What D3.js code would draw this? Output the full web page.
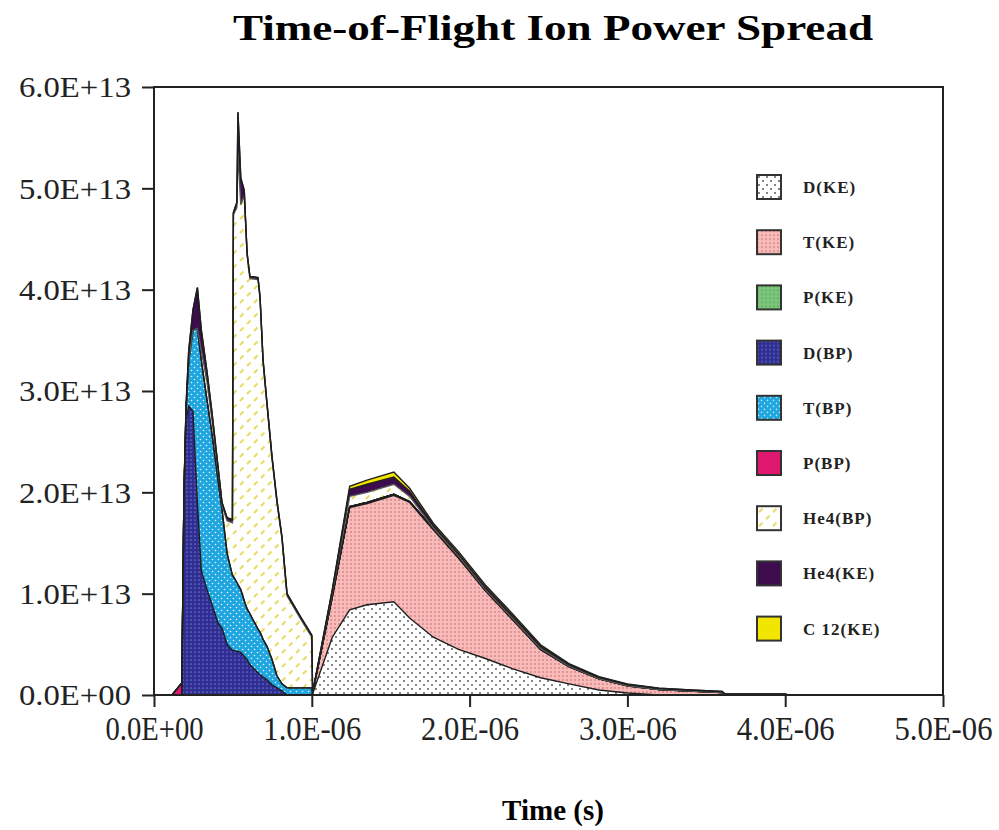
<!DOCTYPE html>
<html>
<head>
<meta charset="utf-8">
<script src="https://cdn.jsdelivr.net/npm/d3@7"></script>
<style>
  body { margin: 0; background: #fff; }
  svg { display: block; }
</style>
</head>
<body>
<div id="container"></div>
<script>
// time in units of 1E-06 s, power in units of 1E+13
const timesUs = [0.07, 0.114, 0.176, 0.183, 0.19, 0.203, 0.22, 0.247, 0.275, 0.30,
  0.336, 0.368, 0.406, 0.431, 0.463, 0.497, 0.503, 0.525, 0.532, 0.55,
  0.572, 0.578, 0.59, 0.608, 0.659, 0.672, 0.691, 0.716, 0.748, 0.779,
  0.811, 0.843, 0.925, 1.0, 1.005, 1.13, 1.24, 1.35, 1.52, 1.62,
  1.77, 1.93, 2.1, 2.27, 2.45, 2.63, 2.82, 3.0, 3.2, 3.4,
  3.6, 3.62, 3.8, 4.0, 4.02];

const dKE = [0, 0, 0, 0, 0, 0, 0, 0, 0, 0, 0, 0, 0, 0, 0, 0, 0, 0, 0, 0,
  0, 0, 0, 0, 0, 0, 0, 0, 0, 0, 0, 0, 0, 0,
  0.01, 0.57, 0.84, 0.89, 0.92, 0.76, 0.57, 0.45, 0.36, 0.26, 0.17, 0.11, 0.05, 0.02, 0, 0, 0, 0, 0, 0, 0];
const tKE = [0, 0, 0, 0, 0, 0, 0, 0, 0, 0, 0, 0, 0, 0, 0, 0, 0, 0, 0, 0,
  0, 0, 0, 0, 0, 0, 0, 0, 0, 0, 0, 0, 0, 0,
  0.01, 0.4, 1.01, 1.0, 1.05, 1.14, 1.06, 0.9, 0.67, 0.49, 0.28, 0.17, 0.11, 0.07, 0.055, 0.04, 0.025, 0, 0, 0, 0];
const pKE = [0, 0, 0, 0, 0, 0, 0, 0, 0, 0, 0, 0, 0, 0, 0, 0, 0, 0, 0, 0,
  0, 0, 0, 0, 0, 0, 0, 0, 0, 0, 0, 0, 0, 0,
  0, 0, 0.01, 0.01, 0.01, 0.01, 0.01, 0.01, 0, 0, 0, 0, 0, 0, 0, 0, 0, 0, 0, 0, 0];
const dBP = [0, 0, 0, 1.0, 2.0, 2.7, 2.85, 2.8, 1.9, 1.23, 1.04, 0.89, 0.71, 0.66, 0.5, 0.44, 0.44, 0.43, 0.43, 0.42,
  0.38, 0.37, 0.35, 0.3, 0.22, 0.2, 0.18, 0.15, 0.1, 0.07, 0.04, 0, 0, 0,
  0, 0, 0, 0, 0, 0, 0, 0, 0, 0, 0, 0, 0, 0, 0, 0, 0, 0, 0, 0, 0];
const tBP = [0, 0, 0, 0, 0, 0.1, 0.45, 0.8, 1.72, 2.07, 1.87, 1.68, 1.41, 1.17, 0.9, 0.74, 0.73, 0.68, 0.66, 0.62,
  0.55, 0.53, 0.5, 0.5, 0.43, 0.42, 0.37, 0.33, 0.25, 0.12, 0.07, 0.07, 0.07, 0.07,
  0, 0, 0, 0, 0, 0, 0, 0, 0, 0, 0, 0, 0, 0, 0, 0, 0, 0, 0, 0, 0];
const pBP = [0, 0, 0.12, 0.03, 0, 0, 0, 0, 0, 0, 0, 0, 0, 0, 0, 0, 0, 0, 0, 0,
  0, 0, 0, 0, 0, 0, 0, 0, 0, 0, 0, 0, 0, 0,
  0, 0, 0, 0, 0, 0, 0, 0, 0, 0, 0, 0, 0, 0, 0, 0, 0, 0, 0, 0, 0];
const he4BP = [0, 0, 0, 0, 0, 0, 0, 0, 0, 0.1, 0.18, 0.14, 0.09, 0.04, 0.32, 0.52, 3.57, 3.7, 4.26, 3.8,
  4.0, 3.84, 3.49, 3.31, 3.45, 3.29, 2.74, 2.38, 1.98, 1.71, 1.43, 0.91, 0.69, 0.5,
  0, 0.04, 0.1, 0.1, 0.1, 0.05, 0.01, 0.01, 0.01, 0.01, 0.01, 0.005, 0, 0, 0, 0, 0, 0, 0, 0, 0];
const he4KE = [0, 0, 0, 0, 0, 0.05, 0.1, 0.2, 0.4, 0.2, 0.1, 0.07, 0.04, 0.03, 0.03, 0.03, 0.02, 0.05, 0.4, 0.26,
  0.05, 0.02, 0.02, 0.02, 0.02, 0.02, 0.02, 0.02, 0.02, 0.02, 0.02, 0.02, 0.02, 0.02,
  0, 0.03, 0.07, 0.08, 0.07, 0.05, 0.025, 0.025, 0.025, 0.025, 0.02, 0.015, 0.015, 0.015, 0.012, 0.01, 0.01, 0.01, 0.01, 0.01, 0];
const c12KE = [0, 0, 0, 0, 0, 0, 0, 0, 0, 0, 0, 0, 0, 0, 0, 0, 0, 0, 0, 0,
  0, 0, 0, 0, 0, 0, 0, 0, 0, 0, 0, 0, 0, 0,
  0, 0, 0.03, 0.04, 0.05, 0.03, 0.02, 0.02, 0.02, 0.02, 0.015, 0.01, 0.005, 0.005, 0, 0, 0, 0, 0, 0, 0];

const seriesNames = ["D(KE)", "T(KE)", "P(KE)", "D(BP)", "T(BP)", "P(BP)", "He4(BP)", "He4(KE)", "C 12(KE)"];
const seriesValues = [dKE, tKE, pKE, dBP, tBP, pBP, he4BP, he4KE, c12KE];

const xTickValues = [0, 1, 2, 3, 4, 5];
const xTickLabels = ["0.0E+00", "1.0E-06", "2.0E-06", "3.0E-06", "4.0E-06", "5.0E-06"];
const yTickValues = [0, 1, 2, 3, 4, 5, 6];
const yTickLabels = ["0.0E+00", "1.0E+13", "2.0E+13", "3.0E+13", "4.0E+13", "5.0E+13", "6.0E+13"];

const width = 999, height = 830;
const margin = { top: 87, right: 56, bottom: 135, left: 154 };
const plotW = width - margin.left - margin.right;
const plotH = height - margin.top - margin.bottom;

const svg = d3.select("#container").append("svg")
  .attr("width", width)
  .attr("height", height);

// fill patterns
const defs = svg.append("defs");

function dotPattern(id, size, bg, dot, r, pts) {
  const p = defs.append("pattern")
    .attr("id", id)
    .attr("width", size)
    .attr("height", size)
    .attr("patternUnits", "userSpaceOnUse");
  p.append("rect").attr("width", size).attr("height", size).attr("fill", bg);
  pts.forEach(([cx, cy]) => {
    p.append("circle").attr("cx", cx).attr("cy", cy).attr("r", r).attr("fill", dot);
  });
}

dotPattern("pDKE", 8, "#ffffff", "#4a4a4a", 0.9, [[2, 2], [6, 6]]);
dotPattern("pTKE", 4, "#f6bcbc", "#d45a5a", 0.8, [[1, 1]]);
dotPattern("pPKE", 4, "#7cc67c", "#3f8f3f", 0.7, [[1, 1]]);
dotPattern("pDBP", 4, "#2e2e94", "#c8c8f0", 0.6, [[1, 1]]);
dotPattern("pTBP", 6, "#1fa6de", "#e6f6ff", 0.8, [[1.5, 1.5], [4.5, 4.5]]);

const hp = defs.append("pattern")
  .attr("id", "pHe4BP")
  .attr("width", 14)
  .attr("height", 14)
  .attr("patternUnits", "userSpaceOnUse");
hp.append("rect").attr("width", 14).attr("height", 14).attr("fill", "#ffffff");
[[2, 6, 5.5, 2.5], [9, 13, 12.5, 9.5]].forEach(([x1, y1, x2, y2]) => {
  hp.append("line")
    .attr("x1", x1).attr("y1", y1).attr("x2", x2).attr("y2", y2)
    .attr("stroke", "#e6dc62").attr("stroke-width", 2);
});

const fills = ["url(#pDKE)", "url(#pTKE)", "url(#pPKE)", "url(#pDBP)", "url(#pTBP)",
  "#e0176e", "url(#pHe4BP)", "#3d0c4f", "#f2e600"];

const rows = timesUs.map((t, i) => {
  const r = { t };
  seriesNames.forEach((k, j) => r[k] = seriesValues[j][i]);
  return r;
});

const stacked = d3.stack().keys(seriesNames)(rows);

const x = d3.scaleLinear().domain([0, 5]).range([0, plotW]);
const y = d3.scaleLinear().domain([0, 6]).range([plotH, 0]);

const g = svg.append("g").attr("transform", `translate(${margin.left},${margin.top})`);

const area = d3.area()
  .x(d => x(d.data.t))
  .y0(d => y(d[0]))
  .y1(d => y(d[1]));

const topLine = d3.line()
  .x(d => x(d.data.t))
  .y(d => y(d[1]));

g.selectAll("path.layer")
  .data(stacked)
  .enter()
  .append("path")
  .attr("class", "layer")
  .attr("fill", (d, i) => fills[i])
  .attr("d", area);

g.selectAll("path.edge")
  .data(stacked)
  .enter()
  .append("path")
  .attr("class", "edge")
  .attr("fill", "none")
  .attr("stroke", (d, i) => i === 6 ? "#555" : "#1e1e1e")
  .attr("stroke-width", 1.4)
  .attr("d", topLine);

// frame
g.append("rect")
  .attr("width", plotW)
  .attr("height", plotH)
  .attr("fill", "none")
  .attr("stroke", "#222")
  .attr("stroke-width", 2);

// axes
const xAxis = g.append("g")
  .attr("transform", `translate(0,${plotH})`)
  .call(d3.axisBottom(x).tickValues(xTickValues).tickSize(12)
    .tickFormat((d, i) => xTickLabels[i]));
xAxis.select(".domain").remove();
xAxis.selectAll("line").attr("stroke", "#222").attr("stroke-width", 2);
xAxis.selectAll("text")
  .attr("y", 45)
  .attr("dy", 0)
  .attr("fill", "#222")
  .attr("textLength", 98)
  .attr("lengthAdjust", "spacingAndGlyphs")
  .style("font-family", "'Liberation Serif', serif")
  .style("font-size", "33px");

const yAxis = g.append("g")
  .call(d3.axisLeft(y).tickValues(yTickValues).tickSize(12).tickPadding(11)
    .tickFormat((d, i) => yTickLabels[i]));
yAxis.select(".domain").remove();
yAxis.selectAll("line").attr("stroke", "#222").attr("stroke-width", 2);
yAxis.selectAll("text")
  .attr("dy", "0.34em")
  .attr("fill", "#222")
  .attr("textLength", 112)
  .attr("lengthAdjust", "spacingAndGlyphs")
  .style("font-family", "'Liberation Serif', serif")
  .style("font-size", "29px");

// title and axis label
svg.append("text")
  .attr("x", 553)
  .attr("y", 40)
  .attr("text-anchor", "middle")
  .attr("textLength", 640)
  .attr("lengthAdjust", "spacingAndGlyphs")
  .style("font-family", "'Liberation Serif', serif")
  .style("font-weight", "bold")
  .style("font-size", "36px")
  .text("Time-of-Flight Ion Power Spread");

svg.append("text")
  .attr("x", 553)
  .attr("y", 820)
  .attr("text-anchor", "middle")
  .style("font-family", "'Liberation Serif', serif")
  .style("font-weight", "bold")
  .style("font-size", "29px")
  .text("Time (s)");

// legend
const legend = svg.append("g").attr("transform", "translate(757,175)");
seriesNames.forEach((name, i) => {
  const row = legend.append("g").attr("transform", `translate(0,${i * 55.2})`);
  row.append("rect")
    .attr("width", 24)
    .attr("height", 24)
    .attr("fill", fills[i])
    .attr("stroke", "#333")
    .attr("stroke-width", 2);
  row.append("text")
    .attr("x", 46)
    .attr("y", 18)
    .attr("fill", "#222")
    .style("font-family", "'Liberation Serif', serif")
    .style("font-weight", "bold")
    .style("font-size", "17px")
    .style("letter-spacing", "1px")
    .text(name);
});
</script>
</body>
</html>
